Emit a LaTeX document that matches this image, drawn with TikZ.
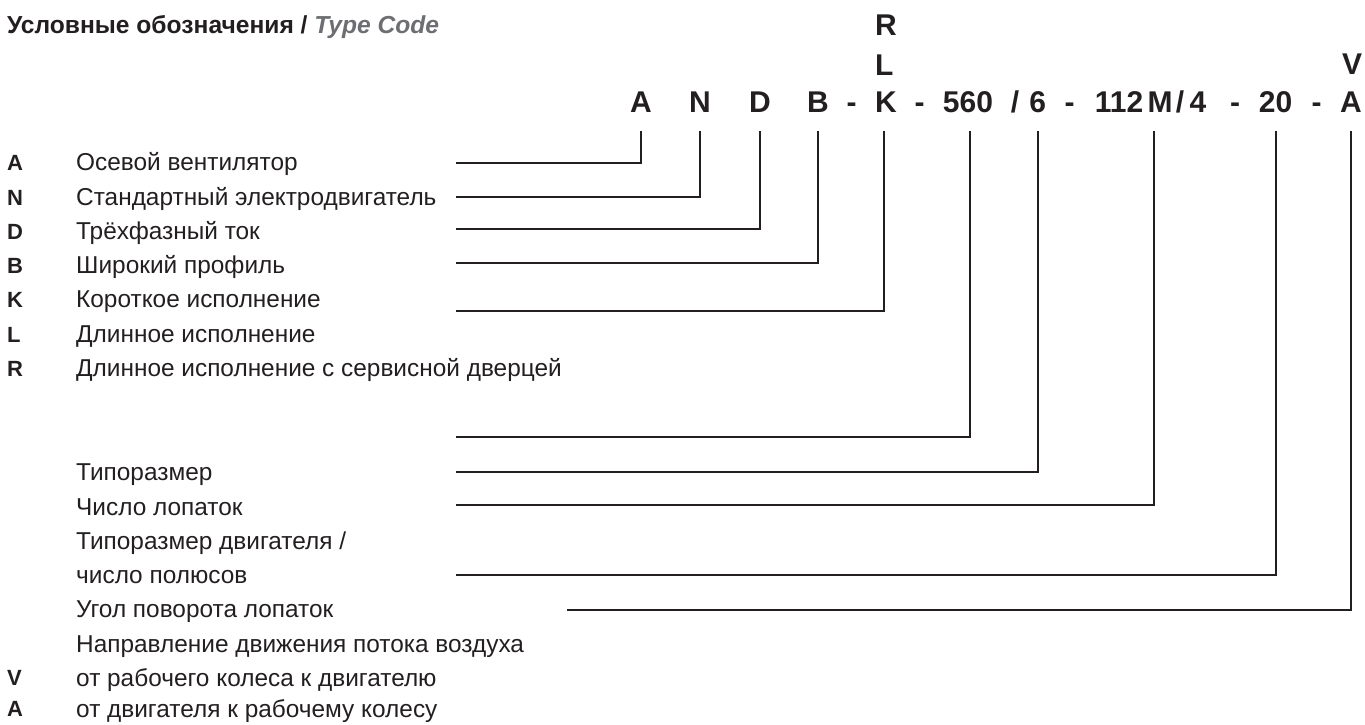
\documentclass[tikz,border=0pt]{standalone}
\usepackage{fontspec}
\setmainfont{Liberation Sans}
\usetikzlibrary{calc}
\definecolor{ink}{HTML}{231F20}
\definecolor{greyt}{HTML}{6D6E71}
\begin{document}
\begin{tikzpicture}[x=1pt,y=-1pt,
  desc/.style={anchor=base west,inner sep=0,font=\fontsize{24.4}{24.4}\selectfont,text=ink},
  keyl/.style={anchor=base west,inner sep=0,font=\fontsize{22}{22}\selectfont\bfseries,text=ink},
  code/.style={anchor=base,inner sep=0,font=\fontsize{30}{30}\selectfont\bfseries,text=ink},
  conn/.style={draw=ink,line width=2pt,line join=miter}]
\useasboundingbox (0,0) rectangle (1365,724);
% title
\node[anchor=base west,inner sep=0,font=\fontsize{24.6}{24.6}\selectfont\bfseries,text=ink] (title) at (7,33)
  {Условные обозначения / \textcolor{greyt}{\itshape Type Code}};
% code line
\node[code] (cA) at (641,112) {A};
\node[code] (cN) at (700,112) {N};
\node[code] (cD) at (760,112) {D};
\node[code] (cB) at (818,112) {B};
\node[code] (d1) at (851.5,112) {-};
\node[code,anchor=base west] (cK) at (875,112) {K};
\node[code,anchor=base west] (cL) at (875,75) {L};
\node[code,anchor=base west] (cR) at (875,35) {R};
\node[code] (d2) at (919.5,112) {-};
\node[code] (c560) at (968,112) {560};
\node[code] (sl) at (1015,112) {/};
\node[code] (c6) at (1037.6,112) {6};
\node[code] (d3) at (1069.5,112) {-};
\node[code] (c112) at (1119,112) {112};
\node[code] (cM) at (1160,112) {M};
\node[code] (sl2) at (1180,112) {/};
\node[code] (c4) at (1198,112) {4};
\node[code] (d4) at (1235,112) {-};
\node[code] (c20) at (1275.5,112) {20};
\node[code] (d5) at (1316.5,112) {-};
\node[code] (cA2) at (1351,112) {A};
\node[code] (cV) at (1352,74) {V};
% left column keys
\node[keyl] (kA) at (7,170.7) {A};
\node[keyl] (kN) at (7,205) {N};
\node[keyl] (kD) at (7,239.3) {D};
\node[keyl] (kB) at (7,273.6) {B};
\node[keyl] (kK) at (7,307.9) {K};
\node[keyl] (kL) at (7,342.2) {L};
\node[keyl] (kR) at (7,376.5) {R};
\node[keyl] (kV) at (7,685) {V};
\node[keyl] (kA3) at (7,716) {A};
% descriptions
\node[desc] (tA) at (76,170.7) {Осевой вентилятор};
\node[desc] (tN) at (76,205) {Стандартный электродвигатель};
\node[desc] (tD) at (76,239.3) {Трёхфазный ток};
\node[desc] (tB) at (76,273.6) {Широкий профиль};
\node[desc] (tK) at (76,307.9) {Короткое исполнение};
\node[desc] (tL) at (76,342.2) {Длинное исполнение};
\node[desc] (tR) at (76,376.5) {Длинное исполнение с сервисной дверцей};
\node[desc] (t1) at (76,480.7) {Типоразмер};
\node[desc] (t2) at (76,515) {Число лопаток};
\node[desc] (t3) at (76,549.3) {Типоразмер двигателя /};
\node[desc] (t4) at (76,583.6) {число полюсов};
\node[desc] (t5) at (76,617.9) {Угол поворота лопаток};
\node[desc] (t6) at (76,652.2) {Направление движения потока воздуха};
\node[desc] (t7) at (76,686.5) {от рабочего колеса к двигателю};
\node[desc] (t8) at (76,717) {от двигателя к рабочему колесу};
% connectors
\coordinate (top) at (0,131);
\coordinate (vK) at ($(cK.base west)+(9,0)$);
\coordinate (v560) at ($(c560.base)+(2,0)$);
\coordinate (vM) at ($(cM.base)+(-6,0)$);
\coordinate (sA) at (456,162.7);
\coordinate (sN) at (456,196.7);
\coordinate (sD) at (456,229);
\coordinate (sB) at (456,263);
\coordinate (sK) at (456,311);
\coordinate (s560) at (456,437);
\coordinate (s6) at (456,471.7);
\coordinate (sM) at (456,505);
\coordinate (s20) at (456,574.7);
\coordinate (sV) at (567,610);
\draw[conn] (sA) -| (cA |- top);
\draw[conn] (sN) -| (cN |- top);
\draw[conn] (sD) -| (cD |- top);
\draw[conn] (sB) -| (cB |- top);
\draw[conn] (sK) -| (vK |- top);
\draw[conn] (s560) -| (v560 |- top);
\draw[conn] (s6) -| (c6 |- top);
\draw[conn] (sM) -| (vM |- top);
\draw[conn] (s20) -| (c20 |- top);
\draw[conn] (sV) -| (cA2 |- top);
\end{tikzpicture}
\end{document}
